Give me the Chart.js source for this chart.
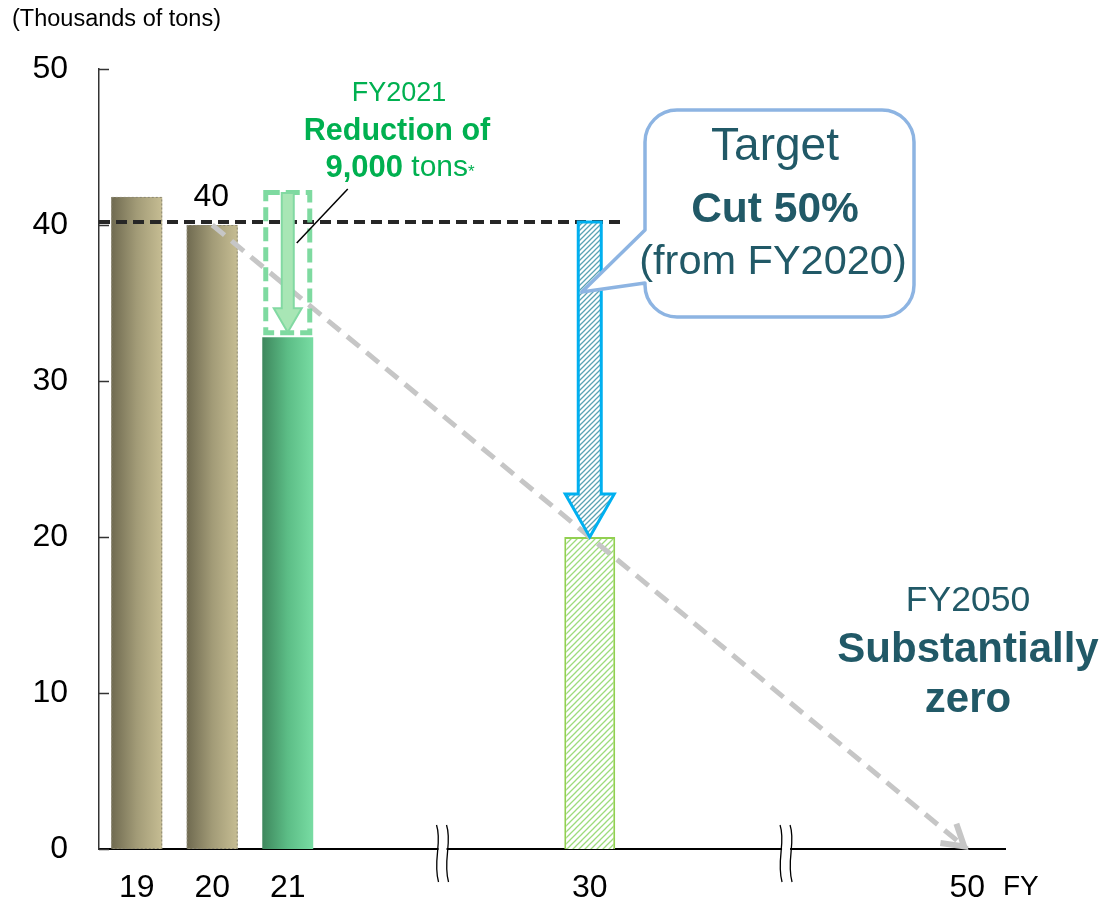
<!DOCTYPE html>
<html>
<head>
<meta charset="utf-8">
<script src="https://cdn.jsdelivr.net/npm/chart.js@4.4.1/dist/chart.umd.min.js"></script>
<style>
  html, body { margin: 0; padding: 0; background: #fff; }
  canvas { display: block; }
</style>
</head>
<body>
<canvas id="c" width="1104" height="905"></canvas>
<script>
// ---- data (thousands of tons) ----
const YEAR_LABELS = ['19', '20', '21', '', '', '', '30', '', '', '', '', '50'];
const EMISSIONS   = [41.8, 40, 32.8, null, null, null, 20, null, null, null, null, null];
const PATHWAY     = [null, 40, null, null, null, null, null, null, null, null, null, 0];
const Y_TICKS     = [0, 10, 20, 30, 40, 50];
const BASELINE_LEVEL = 40.2;   // dashed reference level
const REDUCTION_2021 = 9;      // FY2021 reduction, thousand tons

const FONT = "'Liberation Sans', Arial, sans-serif";
const TEAL = '#215967';
const GREEN_TEXT = '#00b050';
const BAR_PCT = 0.675;

function hatch(color, bg, size, width) {
  const c = document.createElement('canvas');
  c.width = size; c.height = size;
  const g = c.getContext('2d');
  g.fillStyle = bg; g.fillRect(0, 0, size, size);
  g.strokeStyle = color; g.lineWidth = width;
  g.beginPath();
  g.moveTo(-1, size + 1); g.lineTo(size + 1, -1);
  g.moveTo(-1, 1); g.lineTo(1, -1);
  g.moveTo(size - 1, size + 1); g.lineTo(size + 1, size - 1);
  g.stroke();
  return g.createPattern(c, 'repeat');
}
const targetHatch = hatch('#9ddb7c', '#ffffff', 6, 1.3);
const arrowHatch  = hatch('#5aa2b3', '#ffffff', 5, 1.3);

function barFill(ctx) {
  const chart = ctx.chart;
  const i = ctx.dataIndex;
  if (i === 6) return targetHatch;
  if (!chart.chartArea) return '#b0a880';
  const xs = chart.scales.x;
  const step = xs.getPixelForValue(1) - xs.getPixelForValue(0);
  const cx = xs.getPixelForValue(i);
  const half = step * BAR_PCT / 2;
  const g = chart.ctx.createLinearGradient(cx - half, 0, cx + half, 0);
  if (i === 2) {
    g.addColorStop(0, '#3e875d'); g.addColorStop(0.5, '#5cbd86'); g.addColorStop(1, '#78dca3');
  } else {
    g.addColorStop(0, '#6f6a50'); g.addColorStop(0.5, '#a29b77'); g.addColorStop(1, '#c6bd93');
  }
  return g;
}

function textAt(ctx, str, x, y, size, color, weight, align) {
  ctx.font = (weight || 'normal') + ' ' + size + 'px ' + FONT;
  ctx.fillStyle = color;
  ctx.textAlign = align || 'center';
  ctx.textBaseline = 'middle';
  ctx.fillText(str, x, y);
}

// mixed-weight line centred on x
function richLine(ctx, parts, cx, y, color) {
  let total = 0;
  parts.forEach(p => { ctx.font = p.w + ' ' + p.s + 'px ' + FONT; p.width = ctx.measureText(p.t).width; total += p.width; });
  let x = cx - total / 2;
  parts.forEach(p => {
    ctx.font = p.w + ' ' + p.s + 'px ' + FONT;
    ctx.fillStyle = color; ctx.textAlign = 'left'; ctx.textBaseline = 'middle';
    ctx.fillText(p.t, x, y + (p.dy || 0));
    x += p.width;
  });
}

const overlay = {
  id: 'overlay',
  afterDatasetDraw(chart, args) {
    if (args.index !== 0) return;
    // dotted outline on the actual-result bars
    const ctx = chart.ctx;
    const meta = chart.getDatasetMeta(0);
    ctx.save();
    ctx.setLineDash([2, 2]);
    ctx.strokeStyle = '#8c8874';
    ctx.lineWidth = 1;
    [0, 1].forEach(i => {
      const el = meta.data[i];
      const p = el.getProps(['x', 'y', 'base', 'width'], true);
      ctx.strokeRect(p.x - p.width / 2 + 0.5, p.y + 0.5, p.width - 1, p.base - p.y - 1);
    });
    ctx.restore();
  },
  afterDatasetsDraw(chart) {
    const ctx = chart.ctx;
    const xs = chart.scales.x, ys = chart.scales.y;
    const area = chart.chartArea;
    const step = xs.getPixelForValue(1) - xs.getPixelForValue(0);

    // y-axis inward tick marks
    ctx.save();
    ctx.strokeStyle = '#333'; ctx.lineWidth = 1.5;
    Y_TICKS.forEach(v => {
      const y = Math.round(ys.getPixelForValue(v)) + 0.5;
      ctx.beginPath(); ctx.moveTo(area.left, y); ctx.lineTo(area.left + 10, y); ctx.stroke();
    });
    ctx.restore();

    // pathway arrowhead
    const x1 = xs.getPixelForValue(1), y1 = ys.getPixelForValue(PATHWAY[1]);
    const x2 = xs.getPixelForValue(11), y2 = ys.getPixelForValue(PATHWAY[11]);
    const ang = Math.atan2(y2 - y1, x2 - x1);
    ctx.save();
    ctx.strokeStyle = '#c6c6c6'; ctx.lineWidth = 6; ctx.lineCap = 'butt'; ctx.lineJoin = 'miter';
    const tipX = x2 - 4 * Math.cos(ang), tipY = y2 - 4 * Math.sin(ang);
    ctx.beginPath();
    ctx.moveTo(tipX - 24 * Math.cos(ang - 0.55), tipY - 24 * Math.sin(ang - 0.55));
    ctx.lineTo(tipX, tipY);
    ctx.lineTo(tipX - 24 * Math.cos(ang + 0.55), tipY - 24 * Math.sin(ang + 0.55));
    ctx.stroke();
    ctx.restore();

    // dashed baseline reference
    const yRef = ys.getPixelForValue(BASELINE_LEVEL);
    ctx.save();
    ctx.strokeStyle = '#262626'; ctx.lineWidth = 4; ctx.setLineDash([11, 6]);
    ctx.beginPath();
    ctx.moveTo(area.left, yRef);
    ctx.lineTo(xs.getPixelForValue(6) + step * 0.43, yRef);
    ctx.stroke();
    ctx.restore();

    // FY2021 reduction box + arrow
    const c21 = xs.getPixelForValue(2);
    const top21 = ys.getPixelForValue(EMISSIONS[2] + REDUCTION_2021);
    const bot21 = ys.getPixelForValue(EMISSIONS[2]);
    ctx.save();
    ctx.strokeStyle = 'rgba(112,214,150,0.9)'; ctx.lineWidth = 5; ctx.setLineDash([14, 6]);
    ctx.strokeRect(c21 - 22, top21 - 4.5, 44, bot21 - top21);
    ctx.setLineDash([]);
    ctx.beginPath();
    ctx.moveTo(c21 - 6, top21 - 4);
    ctx.lineTo(c21 + 6, top21 - 4);
    ctx.lineTo(c21 + 6, bot21 - 29);
    ctx.lineTo(c21 + 14, bot21 - 29);
    ctx.lineTo(c21, bot21 - 5);
    ctx.lineTo(c21 - 14, bot21 - 29);
    ctx.lineTo(c21 - 6, bot21 - 29);
    ctx.closePath();
    ctx.fillStyle = '#a8e6b5'; ctx.fill();
    ctx.strokeStyle = '#82d9a2'; ctx.lineWidth = 2; ctx.stroke();
    // leader line to the label
    ctx.strokeStyle = '#000'; ctx.lineWidth = 1.5;
    ctx.beginPath(); ctx.moveTo(c21 + 9, top21 + 46); ctx.lineTo(c21 + 60, top21 - 8); ctx.stroke();
    ctx.restore();

    // FY2030 target arrow
    const c30 = xs.getPixelForValue(6);
    const tip30 = ys.getPixelForValue(EMISSIONS[6]);
    ctx.save();
    ctx.beginPath();
    ctx.moveTo(c30 - 11.5, yRef);
    ctx.lineTo(c30 + 11.5, yRef);
    ctx.lineTo(c30 + 11.5, tip30 - 43);
    ctx.lineTo(c30 + 24.5, tip30 - 43);
    ctx.lineTo(c30, tip30);
    ctx.lineTo(c30 - 24.5, tip30 - 43);
    ctx.lineTo(c30 - 11.5, tip30 - 43);
    ctx.closePath();
    ctx.fillStyle = arrowHatch; ctx.fill();
    ctx.strokeStyle = '#00b0f0'; ctx.lineWidth = 3; ctx.lineJoin = 'miter'; ctx.stroke();
    ctx.restore();

    // callout bubble
    const bx0 = 645, by0 = 110, bx1 = 914, by1 = 317, r = 32;
    ctx.save();
    ctx.beginPath();
    ctx.moveTo(bx0 + r, by0);
    ctx.lineTo(bx1 - r, by0); ctx.arcTo(bx1, by0, bx1, by0 + r, r);
    ctx.lineTo(bx1, by1 - r); ctx.arcTo(bx1, by1, bx1 - r, by1, r);
    ctx.lineTo(bx0 + r, by1); ctx.arcTo(bx0, by1, bx0, by1 - r, r);
    ctx.lineTo(bx0, 283);
    ctx.lineTo(c30 - 8, 292);
    ctx.lineTo(bx0, 230);
    ctx.lineTo(bx0, by0 + r); ctx.arcTo(bx0, by0, bx0 + r, by0, r);
    ctx.closePath();
    ctx.fillStyle = '#fff'; ctx.fill();
    ctx.strokeStyle = '#8db4e2'; ctx.lineWidth = 3.5; ctx.lineJoin = 'round'; ctx.stroke();
    ctx.restore();

    // axis break marks
    [xs.getPixelForValue(4) + step * 0.05, xs.getPixelForValue(8) + step * 0.6].forEach(xb => {
      ctx.save();
      ctx.fillStyle = '#fff';
      ctx.fillRect(xb - 4, area.bottom - 4, 8, 8);
      ctx.strokeStyle = '#000'; ctx.lineWidth = 1.3;
      [-5, 5].forEach(off => {
        const x = xb + off, yA = area.bottom - 24, yB = area.bottom + 33;
        ctx.beginPath();
        ctx.moveTo(x - 1, yA);
        ctx.bezierCurveTo(x + 5, yA + 18, x - 5, yB - 22, x + 1, yB);
        ctx.stroke();
      });
      ctx.restore();
    });
  },
  afterDraw(chart) {
    const ctx = chart.ctx;
    const xs = chart.scales.x, ys = chart.scales.y;
    ctx.save();
    textAt(ctx, '(Thousands of tons)', 12, 20, 23.5, '#000', 'normal', 'left');
    textAt(ctx, 'FY', 1003, 887, 28, '#000', 'normal', 'left');
    // FY2020 value label
    textAt(ctx, String(EMISSIONS[1]), xs.getPixelForValue(1) - 1, ys.getPixelForValue(EMISSIONS[1]) - 28, 32, '#000');

    // FY2021 note
    textAt(ctx, 'FY2021', 399, 94, 27, GREEN_TEXT);
    textAt(ctx, 'Reduction of', 397, 132, 30.5, GREEN_TEXT, 'bold');
    richLine(ctx, [
      { t: '9,000', s: 31, w: 'bold' },
      { t: ' tons', s: 30, w: 'normal' },
      { t: '*', s: 17, w: 'normal', dy: 4 }
    ], 400, 168, GREEN_TEXT);

    // target callout text
    textAt(ctx, 'Target', 775, 147, 46, TEAL);
    textAt(ctx, 'Cut 50%', 775, 210, 42.5, TEAL, 'bold');
    textAt(ctx, '(from FY2020)', 773, 263, 41.5, TEAL);

    // FY2050 note
    textAt(ctx, 'FY2050', 968, 601, 35.5, TEAL);
    textAt(ctx, 'Substantially', 968, 650, 42, TEAL, 'bold');
    textAt(ctx, 'zero', 968, 700, 42, TEAL, 'bold');
    ctx.restore();
  }
};

new Chart(document.getElementById('c'), {
  data: {
    labels: YEAR_LABELS,
    datasets: [
      {
        type: 'bar',
        data: EMISSIONS,
        order: 1,
        backgroundColor: barFill,
        borderColor: '#92d050',
        borderWidth: ctx => (ctx.dataIndex === 6 ? 2 : 0),
        barPercentage: BAR_PCT,
        categoryPercentage: 1
      },
      {
        type: 'line',
        data: PATHWAY,
        order: 0,
        spanGaps: true,
        borderColor: '#c6c6c6',
        borderWidth: 5,
        borderDash: [16, 9],
        pointRadius: 0,
        tension: 0,
        fill: false
      }
    ]
  },
  options: {
    responsive: false,
    devicePixelRatio: 1,
    animation: false,
    layout: { padding: { top: 69, right: 99, left: 0, bottom: 0 } },
    plugins: { legend: { display: false }, tooltip: { enabled: false } },
    scales: {
      x: {
        type: 'category',
        offset: true,
        grid: { display: false, drawTicks: false },
        border: { display: true, color: '#000', width: 2 },
        ticks: { font: { size: 32, family: FONT }, color: '#000', padding: 20, autoSkip: false, maxRotation: 0 },
        afterFit(s) { s.height = 56; }
      },
      y: {
        min: 0, max: 50,
        grid: { display: false, drawTicks: false },
        border: { display: true, color: '#333', width: 1.5 },
        ticks: { font: { size: 32, family: FONT }, color: '#000', padding: 31 },
        afterBuildTicks(s) { s.ticks = Y_TICKS.map(v => ({ value: v })); },
        afterFit(s) { s.width = 99; }
      }
    }
  },
  plugins: [overlay]
});
</script>
</body>
</html>
